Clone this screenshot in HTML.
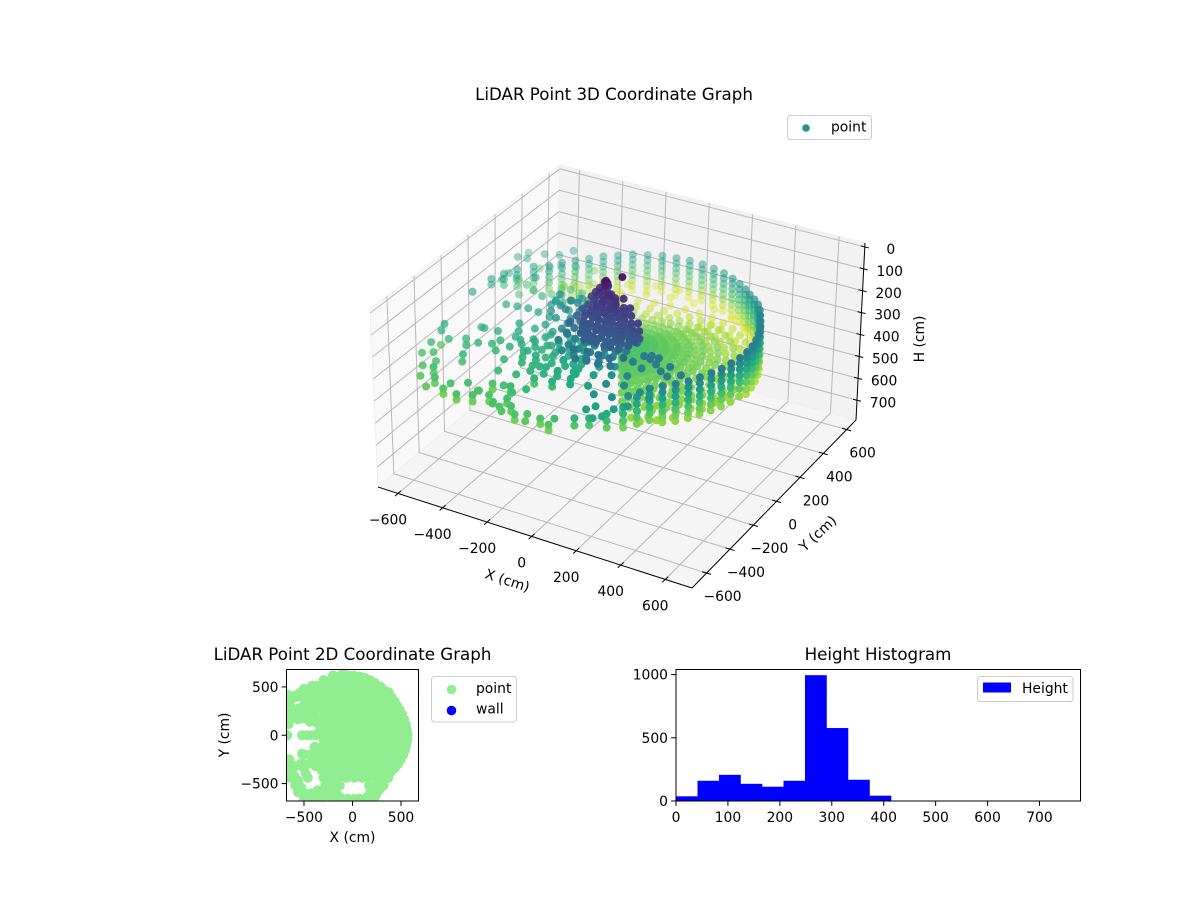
<!DOCTYPE html>
<html lang="en">
<head>
<meta charset="utf-8">
<title>LiDAR Point Graphs</title>
<style>
html,body{margin:0;padding:0;background:#fff;}
svg{display:block;font-family:"DejaVu Sans","Liberation Sans",sans-serif;fill:#000;}
</style>
</head>
<body>
<svg id="fig" xmlns="http://www.w3.org/2000/svg" width="1200" height="900" viewBox="0 0 1200 900">
  <rect x="0" y="0" width="1200" height="900" fill="#ffffff"/>
  <defs>
    <clipPath id="clip2d"><rect x="286.5" y="669.5" width="132" height="131.5"/></clipPath>
  </defs>
  <text x="614" y="100" font-size="16.67" text-anchor="middle">LiDAR Point 3D Coordinate Graph</text>
  <g id="plot3d"></g>
  <text transform="translate(506,585) rotate(18)" font-size="13.89" text-anchor="middle">X (cm)</text>
  <text transform="translate(821,537) rotate(-43)" font-size="13.89" text-anchor="middle">Y (cm)</text>
  <text transform="translate(924,339) rotate(-90)" font-size="13.89" text-anchor="middle">H (cm)</text>
  <g>
    <rect x="787.5" y="115.5" width="84" height="24" rx="3" fill="#ffffff" fill-opacity="0.8" stroke="#cccccc"/>
    <circle cx="806" cy="128" r="3.8" fill="#21918c"/>
    <text x="831" y="131.5" font-size="13.89">point</text>
  </g>

  <text x="352.5" y="660" font-size="16.67" text-anchor="middle">LiDAR Point 2D Coordinate Graph</text>
  <g id="plot2d"></g>
  <text x="352.5" y="842" font-size="13.89" text-anchor="middle">X (cm)</text>
  <text transform="translate(229,735) rotate(-90)" font-size="13.89" text-anchor="middle">Y (cm)</text>
  <g>
    <rect x="431.5" y="676.5" width="85" height="45.5" rx="3" fill="#ffffff" stroke="#cccccc"/>
    <circle cx="451.5" cy="689.5" r="4.8" fill="#90ee90"/>
    <text x="476" y="693" font-size="13.89">point</text>
    <circle cx="451.5" cy="710.5" r="4.8" fill="#0000ff"/>
    <text x="476" y="713.5" font-size="13.89">wall</text>
  </g>

  <text x="878" y="660" font-size="16.67" text-anchor="middle">Height Histogram</text>
  <g id="hist"></g>
  <g>
    <rect x="977.5" y="676.5" width="95.5" height="25" rx="3" fill="#ffffff" fill-opacity="0.8" stroke="#cccccc"/>
    <rect x="983" y="682.5" width="28" height="10" fill="#0000ff"/>
    <text x="1022" y="693" font-size="13.89">Height</text>
  </g>
</svg>
<script>
// ---------- tick labels ----------
const xTicks3d = [-600,-400,-200,0,200,400,600];
const yTicks3d = [-600,-400,-200,0,200,400,600];
const hTicks3d = [0,100,200,300,400,500,600,700];
const ticks2d = [-500,0,500];
const histXTicks = [0,100,200,300,400,500,600,700];
const histYTicks = [0,500,1000];

// ---------- histogram data ----------
const binEdges = [0,41.4,82.8,124.2,165.6,207,248.4,289.8,331.2,372.6,414];
const binCounts = [37,160,207,136,113,160,995,577,168,42];

// ---------- lidar wall columns: beam angle (deg), ground range (cm), heights (cm) ----------
const wallAngles = [-72,-66,-60,-54.5,-49,-43.5,-38,-32.5,-27,-21.5,-16,-10.5,-5,0.5,6,11.5,17,22.5,28,33.5,39,44.5,50,55.5,61,66.5,72,77.5,83,88.5,94,99.5,105,110.5,116,121.5,127,132.5,138,143.5,149,154,160,165,170];
const wallRanges = [640,620,590,560,545,545,550,555,555,558,560,562,565,565,562,558,555,552,550,550,555,560,562,565,575,585,595,603,610,615,617,620,620,618,615,610,605,600,595,592,590,620,640,653,667];
const wallHeights = [
[270,300],
[255,285,315],
[240,270,300,330],
[215,245,275,304,332],
[190,216,244,272,300,328],
[186,212,240,268,296,324,345],
[184,210,238,266,294,322,346],
[182,208,236,264,292,320,344],
[180,206,234,262,290,318,342],
[178,204,232,260,288,316,342],
[178,203,230,258,286,314,344],
[176,202,228,256,284,312,346],
[176,200,226,254,282,312,346],
[176,198,224,250,278,308,340,362],
[178,200,224,250,276,304,334,362],
[180,202,226,250,276,302,332,364],
[182,204,228,252,278,304,332,366],
[184,206,230,254,280,306,334,370],
[186,208,232,256,282,308,336,372],
[188,210,234,258,284,310,340,376],
[194,218,242,266,292,318,348,380],
[200,224,248,272,298,324,354,384],
[206,230,254,278,304,330,358,388],
[212,236,260,284,310,336,362,392],
[218,242,266,290,314,340,366,394],
[222,246,270,294,318,342,368,396],
[225,248,272,296,320,344,370,398],
[226,250,274,298,322,346,372,398],
[228,252,276,300,324,348,372,396],
[228,252,276,300,324,348,370,394],
[227,250,274,298,322,346,370,396],
[228,252,276,298,322,346,372,398],
[226,250,274,296,320,344,368,392],
[228,252,276,300,324,348,372,396],
[226,250,274,298,322,346,370,392],
[228,252,276,300,324,348,372,394],
[226,250,274,298,322,346,372,396],
[228,252,276,302,326,350,374],
[225,250,276,300,326,350],
[222,246,272,298,324,350],
[220,246,272,298,324],
[222,248,274,300,330],
[222,248,274,300],
[226,252,278],
[232,258]
];

// ---------- lidar floor rays: beam angle (deg), shared ground ranges (cm), heights (cm) ----------
const floorAngles = [-60,-52.5,-45,-37.5,-30,-22.5,-15,-7.5,0,7.5,15,22.5,30,37.5,45,52.5,60,67.5,75,82.5,90,97.5,105,112.5,120,127.5,135];
const floorRanges = [40,70,100,135,175,220,270,325,385,450,515];
const floorHeights = [
[292,295,298,300,306,312,318,324,330,338,346],
[290,294,297,302,306,310,316,322,332,340,348],
[292,296,298,303,308,312,318,324,330,342,350],
[291,294,298,302,306,311,316,323,331,340,352],
[292,295,299,302,307,312,317,322,332,342,350],
[290,296,298,303,306,310,318,324,330,340,352],
[293,295,297,302,308,312,316,322,333,341,350],
[291,294,299,304,306,311,317,325,330,342,354],
[292,296,298,302,307,313,318,323,332,340,352],
[290,295,300,303,308,312,316,324,334,344,354],
[293,294,298,304,306,311,318,326,332,342,356],
[292,296,299,302,309,314,320,325,335,346,358],
[291,295,298,305,308,312,319,327,336,348,360],
[293,297,300,304,310,315,320,328,338,350,362],
[292,296,301,306,310,316,322,330,340,352,366],
[294,298,302,306,312,318,324,332,344,356,370],
[294,297,303,308,313,319,326,336,348,360,374],
[295,299,304,309,315,322,330,340,352,366,380],
[296,300,305,311,317,324,332,342,356,370,384],
[296,301,306,312,318,326,336,346,360,374,388],
[297,302,307,313,320,328,338,350,362,376,390],
[298,303,308,314,322,330,340,352,364,378,388],
[298,304,309,316,323,332,342,352,366,376,386],
[299,304,310,316,324,332,342,354,364,374,384],
[300,305,310,317,324,334,344,354,362,372,380],
[300,306,312,318,326,334,344,352,360,368,376],
[301,306,312,320,328,336,344,350,358,364,370]
];

// ---------- interleaved floor rays in the dense forward fan ----------
const fanAngles = [-56,-48,-41,-34,-26,-19,-11,-4,4,11,19,26,34,41,49,56,64,71];
const fanRanges = [55,85,118,155,197,245,297,355,417,482];
const fanHeights = [
[300,304,306,310,314,320,326,332,340,348],
[302,304,308,311,316,320,324,334,342,350],
[300,303,306,312,315,322,328,334,344,352],
[301,305,308,310,316,321,326,336,342,350],
[303,304,307,312,314,320,328,335,344,354],
[300,306,308,311,317,322,327,333,343,352],
[302,305,309,313,315,320,326,336,345,356],
[301,304,307,310,316,323,329,334,344,352],
[303,306,308,312,318,322,328,336,346,356],
[300,304,309,314,316,324,330,338,348,358],
[302,306,310,312,318,325,332,340,350,360],
[301,305,308,314,320,326,332,342,352,364],
[303,307,310,315,320,327,334,344,356,368],
[302,306,311,316,322,328,336,346,358,370],
[304,308,312,317,323,330,338,350,362,374],
[305,309,314,319,325,333,342,352,366,378],
[306,310,315,320,328,336,346,358,370,384],
[307,311,316,322,330,338,348,360,374,386]
];

// ---------- obstacle and floor returns on the left and front of the room (cm) ----------
const scatterX = [
-500,-540,-590,-640,-665,-650,-640,-560,-480,-420,
-640,-560,-500,-520,-450,-440,-370,-330,-380,-380,
-300,-672,-520,-470,-420,-375,-300,-230,-340,-260,
-281,-260,-320,-240,-300,-220,-190,-200,-260,-170,
-330,-280,-240,-180,-100,-300,-220,-140,-60,-390,
-320,-240,-160,-80,0,-440,-360,-280,-200,-120,
-40,40,-420,-340,-260,-180,-100,-20,60,130,
-320,-240,-160,-80,0,80,160,230,-300,-220,
-140,-60,20,100,180,260,330,-280,-200,-130,
170,250,320,-250,-170,180,250,-130,150,10,
-640,-590,-530,-500,-520,-640,-600,-560,-530,-490,
-430,-360,-300,-650,-470,-620,-430,-360,-250,-170,
-530,-490,-130,150,10,-300,-280,-200,-140,-60,
-220,-160,-100,-40,-260,-200,-130,-70,-10,-180,
-120,-60,0,-250,-190,-130,-80,-310,-250,-370,
-91,-91,61,61,-40,-200,-150,373,290,198,
101,0,-101,-198,-290,-373,-444,-390,-450,-470,
-330,-380,-300,-440,-610,-560,-670,-600,-520,-640,
-590,-560,-500,-400,-380,-230,-170,-300,-210,-170,
200,280,230,300,370,-340,-270,-200,-130,-290,
-215,-155,-95,-30,-275,-215,-150,-95,-45,-190,
-135,-75,-15,-240,-175,-110,-60,-330,-270,-135,
-200,-300,-380,-450,-100,-500,-360,-420,-500,-480,
-460,-300,-50,70
];
const scatterY = [
480,440,410,360,330,240,170,400,470,510,
300,165,175,225,230,140,130,110,260,190,
190,0,0,0,0,0,120,120,40,40,
12,60,40,-20,-30,40,20,-50,-60,-30,
90,90,110,40,40,-40,-40,-40,-40,-120,
-120,-120,-120,-120,-120,-200,-200,-200,-200,-200,
-200,-200,-280,-280,-280,-280,-280,-280,-280,-280,
-360,-360,-360,-360,-360,-360,-360,-360,-440,-440,
-440,-440,-440,-440,-440,-440,-440,-520,-520,-520,
-520,-520,-520,-600,-600,-600,-600,-640,-640,-660,
-290,-320,-290,-200,-190,-370,-420,-470,-540,-600,
-640,-660,-640,-250,-300,-330,-640,-660,-600,-600,
-540,-600,-640,-640,-660,-640,-520,-520,-440,-440,
-240,-240,-240,-240,-320,-320,-320,-320,-320,-400,
-400,-400,-400,-160,-160,-160,-160,-240,-240,-160,
-682,-682,-686,-686,-690,-660,-680,444,502,545,
571,580,571,545,502,444,373,456,400,360,
380,320,300,290,230,225,420,390,420,-440,
-520,-590,-650,-250,-320,-520,-560,-590,-640,-660,
-560,-560,-640,-480,-440,280,210,130,90,-90,
-205,-215,-195,-225,-285,-295,-275,-290,-300,-365,
-355,-370,-350,-135,-185,-125,-190,-215,-205,-70,
620,570,510,450,640,410,-570,-600,-340,-400,
-440,-600,-655,-655
];
const scatterH = [
235,245,240,250,235,262,255,290,300,320,
318,300,270,240,300,262,255,250,275,265,
260,240,255,250,245,250,235,240,225,230,
200,195,205,190,210,185,195,205,215,175,
200,215,205,222,240,232,238,228,226,248,
252,244,250,246,240,258,262,250,256,248,
244,232,272,262,258,266,254,252,240,220,
275,268,262,258,250,232,210,195,282,276,
270,262,252,236,205,190,200,296,285,278,
215,205,225,300,292,240,250,295,268,300,
270,280,275,262,268,285,295,300,312,318,
305,300,296,262,272,310,330,325,330,315,
285,292,320,300,325,325,322,310,295,285,
262,258,255,252,268,264,258,254,250,268,
264,258,252,252,250,246,244,262,258,258,
300,325,300,325,312,295,305,392,394,396,
392,394,390,388,384,380,376,350,340,330,
330,320,310,300,270,285,260,300,280,300,
305,310,312,265,272,290,285,300,300,300,
240,230,245,205,215,290,270,225,230,240,
258,254,250,246,262,258,254,250,248,264,
260,256,250,250,246,250,246,260,256,240,
388,382,378,372,390,368,292,298,272,280,
288,296,300,286
];

// ---------- central obstacle near the sensor (cm) ----------
const blobX = [
-12,-65,-55,-72,-60,-48,-80,-60,-40,-20,-90,-70,-50,-30,-10,10,
-100,-80,-60,-40,-20,0,20,40,-95,-70,-45,-15,15,45,70,
-110,-85,-55,-25,5,35,65,95,125,-120,-90,-55,-20,15,50,85,120,155,
-135,-100,-60,-20,20,60,100,140,170,-150,-115,-70,-25,20,65,110,150,-160,-130,-80,-30,20,70,115,-170,-140,-90,-35,20,75,
230,265,250,300,290,340,360,260,210,380,430,
-20,8,42,-32,2,28,62,88,-42,-8,22,48,82,112,-52,-18,12,38,72,98,132,158,
-62,-28,2,32,58,92,118,152,182,-48,-22,12,38,68,88,122,148,178,202,
-38,-12,22,52,78,112,138,172,198,-28,2,28,62,88,118,152,182,4,32,58,92,122,158,
40,90,140,190,-20,60,110,10,160
];
const blobY = [
26,-10,-15,-8,-25,-22,-30,-40,-40,-45,-45,-60,-60,-65,-60,-65,
-60,-75,-85,-85,-90,-90,-90,-85,-95,-105,-110,-115,-115,-115,-105,
-110,-130,-135,-140,-140,-145,-140,-135,-135,-140,-165,-170,-175,-175,-175,-170,-165,-155,
-170,-195,-205,-210,-210,-210,-205,-195,-175,-150,-225,-240,-245,-245,-245,-240,-225,-120,-200,-275,-280,-280,-280,-270,-170,-250,-310,-315,-315,-310,
-225,-240,-200,-255,-215,-290,-250,-300,-280,-310,-290,
-60,-64,-58,-90,-88,-94,-90,-86,-120,-124,-118,-122,-116,-120,-150,-154,-148,-152,-146,-150,-154,-148,
-180,-176,-184,-180,-176,-182,-178,-184,-180,-210,-206,-212,-208,-214,-208,-212,-206,-210,-214,
-240,-244,-238,-242,-236,-240,-244,-238,-242,-270,-266,-272,-268,-274,-268,-272,-266,-300,-296,-302,-298,-304,-300,
-340,-340,-340,-320,-340,-380,-380,-380,-370
];
const blobH = [
5,18,24,28,30,32,44,48,50,52,58,60,62,64,66,68,
74,78,80,82,84,86,88,90,92,95,96,98,100,102,100,
108,112,114,116,118,120,122,124,126,128,132,134,136,138,140,142,140,138,
148,152,154,156,158,160,160,162,155,165,168,170,172,174,176,176,172,175,178,182,184,186,188,186,186,190,194,196,198,198,
172,168,178,175,170,178,172,182,176,180,170,
50,52,48,64,66,62,68,64,74,76,72,78,74,76,84,86,82,88,84,86,88,84,
94,96,92,98,94,96,98,94,96,104,106,102,108,104,106,104,106,102,108,
110,112,108,114,110,112,108,114,110,118,116,120,116,122,118,116,120,124,126,122,128,124,126,
150,150,152,145,155,165,165,170,165
];

// ---------- axis ranges ----------
const xRange3d = [-690,720];
const yRange3d = [-725,680];
const hRange3d = [-18,790];
const colorMaxH = 415;
const range2d = [-680,680];
const histXRange = [0,779];
const histYRange = [0,1040];

// ---------- colormap ----------
const viridisStops = ['#440154','#482475','#414487','#355f8d','#2a788e','#21918c','#22a884','#44bf70','#7ad151','#bddf26','#fde725'];

const NS = 'http://www.w3.org/2000/svg';
function make(tag, attrs, parent){
  const el = document.createElementNS(NS, tag);
  for (const k in attrs) el.setAttribute(k, attrs[k]);
  parent.appendChild(el);
  return el;
}
function fmt(v){ return String(v).replace('-', '\u2212'); }
function lerp(a,b,t){ return a+(b-a)*t; }
function viridis(t){
  t = Math.max(0, Math.min(1, t));
  const p = t*(viridisStops.length-1), i = Math.min(Math.floor(p), viridisStops.length-2), f = p-i;
  const a = parseInt(viridisStops[i].slice(1),16), b = parseInt(viridisStops[i+1].slice(1),16);
  const r = Math.round(lerp(a>>16,b>>16,f)), g = Math.round(lerp((a>>8)&255,(b>>8)&255,f)), bl = Math.round(lerp(a&255,b&255,f));
  return 'rgb('+r+','+g+','+bl+')';
}

// ---------- 3D box: floor corners and top corners in figure space ----------
const cornerFloor = {L:[378,487],F:[692,588],R:[856,420],B:[556,338]};
const cornerTop = {L:[370,309],F:[694,398],R:[865,243],B:[560,165]};
function tx(x){ return (x-xRange3d[0])/(xRange3d[1]-xRange3d[0]); }
function ty(y){ return (y-yRange3d[0])/(yRange3d[1]-yRange3d[0]); }
function tz(h){ return (h-hRange3d[0])/(hRange3d[1]-hRange3d[0]); }
function blend(c,a,b){
  const out = [0,0];
  for (let i=0;i<2;i++){
    const p = lerp(c.L[i],c.F[i],a), q = lerp(c.B[i],c.R[i],a);
    out[i] = lerp(p,q,b);
  }
  return out;
}
function project(x,y,h){
  const a = tx(x), b = ty(y), c = tz(h);
  const top = blend(cornerTop,a,b), flo = blend(cornerFloor,a,b);
  return [lerp(top[0],flo[0],c), lerp(top[1],flo[1],c)];
}
function depth(x,y,h){ return 0.433*tx(x)-0.75*ty(y)+0.375*(1-tz(h)); }

// ---------- assemble points from the arrays ----------
const points = [];
wallAngles.forEach(function(angle,i){
  const rad = angle*Math.PI/180;
  wallHeights[i].forEach(function(h){
    points.push({x:wallRanges[i]*Math.cos(rad), y:wallRanges[i]*Math.sin(rad), h:h});
  });
});
floorAngles.forEach(function(angle,i){
  const rad = angle*Math.PI/180;
  floorRanges.forEach(function(r,j){
    points.push({x:r*Math.cos(rad), y:r*Math.sin(rad), h:floorHeights[i][j]});
  });
});
fanAngles.forEach(function(angle,i){
  const rad = angle*Math.PI/180;
  fanRanges.forEach(function(r,j){
    points.push({x:r*Math.cos(rad), y:r*Math.sin(rad), h:fanHeights[i][j]});
  });
});
scatterX.forEach(function(x,i){ points.push({x:x, y:scatterY[i], h:scatterH[i]}); });
blobX.forEach(function(x,i){ points.push({x:x, y:blobY[i], h:blobH[i]}); });

// ---------- 3D plot ----------
const g3 = document.getElementById('plot3d');
function poly(list,fill,name){
  const el = make('polygon',{points:list.map(function(p){return p.join(',');}).join(' '),fill:fill,stroke:'#efefef','stroke-width':1},g3);
  
  
}
poly([cornerFloor.L,cornerFloor.B,cornerTop.B,cornerTop.L],'#f9f9f9','left-wall-pane');
poly([cornerFloor.B,cornerFloor.R,cornerTop.R,cornerTop.B],'#f2f2f2','back-wall-pane');
poly([cornerFloor.L,cornerFloor.F,cornerFloor.R,cornerFloor.B],'#f5f5f5','floor-pane');

const xLo = xRange3d[0], xHi = xRange3d[1], yLo = yRange3d[0], yHi = yRange3d[1], hLo = hRange3d[0], hHi = hRange3d[1];
function gridPath(pts,name){
  const el = make('polyline',{points:pts.map(function(p){return p.join(',');}).join(' '),fill:'none',stroke:'#b8b8b8','stroke-width':1},g3);
  
  
}
xTicks3d.forEach(function(v){
  gridPath([project(v,yLo,hHi),project(v,yHi,hHi),project(v,yHi,hLo)],'x-gridline');
});
yTicks3d.forEach(function(v){
  gridPath([project(xHi,v,hHi),project(xLo,v,hHi),project(xLo,v,hLo)],'y-gridline');
});
hTicks3d.forEach(function(v){
  gridPath([project(xLo,yLo,v),project(xLo,yHi,v),project(xHi,yHi,v)],'h-gridline');
});

function axisLine(a,b,name){
  const el = make('line',{x1:a[0],y1:a[1],x2:b[0],y2:b[1],stroke:'#000','stroke-width':1},g3);
  
  
}
axisLine(cornerFloor.L,cornerFloor.F,'x-axis-line');
axisLine(cornerFloor.F,cornerFloor.R,'y-axis-line');
axisLine(cornerFloor.R,cornerTop.R,'h-axis-line');

function label(g,x,y,str,anchor,name){
  const el = make('text',{x:x,y:y,'font-size':13.89,'text-anchor':anchor},g);
  el.textContent = str;
  
  
}
xTicks3d.forEach(function(v){
  const p = project(v,yLo,hHi);
  axisLine([p[0]-3,p[1]+2.7],[p[0]+3,p[1]-2.7],'x-tick');
  label(g3,p[0]-10,p[1]+31,fmt(v),'middle','x-tick-label');
});
yTicks3d.forEach(function(v){
  const p = project(xHi,v,hHi);
  axisLine([p[0]-4.5,p[1]-1.3],[p[0]+4.5,p[1]+1.3],'y-tick');
  label(g3,p[0]+16,p[1]+28,fmt(v),'middle','y-tick-label');
});
hTicks3d.forEach(function(v){
  const p = project(xHi,yHi,v);
  axisLine([p[0]-4,p[1]-1],[p[0]+4,p[1]+1],'h-tick');
  label(g3,p[0]+26,p[1]+7,fmt(v),'middle','h-tick-label');
});

const ordered = points.slice().sort(function(a,b){ return depth(a.x,a.y,a.h)-depth(b.x,b.y,b.h); });
const dMin = depth(ordered[0].x,ordered[0].y,ordered[0].h);
const dLast = ordered[ordered.length-1];
const dMax = depth(dLast.x,dLast.y,dLast.h);
const pointGroup = make('g',{},g3);


ordered.forEach(function(pt){
  const p = project(pt.x,pt.y,pt.h);
  const alpha = Math.min(1, 0.36+0.85*(depth(pt.x,pt.y,pt.h)-dMin)/(dMax-dMin));
  const el = make('circle',{cx:p[0].toFixed(1),cy:p[1].toFixed(1),r:4,fill:viridis(pt.h/colorMaxH),'fill-opacity':alpha.toFixed(2)},pointGroup);
  
  
});

// ---------- 2D plot ----------
const g2 = document.getElementById('plot2d');
const box2d = {l:286.5,r:418.5,t:669.5,b:801};
function sx2(v){ return box2d.l+(v-range2d[0])/(range2d[1]-range2d[0])*(box2d.r-box2d.l); }
function sy2(v){ return box2d.b-(v-range2d[0])/(range2d[1]-range2d[0])*(box2d.b-box2d.t); }
const back2d = make('rect',{x:box2d.l,y:box2d.t,width:box2d.r-box2d.l,height:box2d.b-box2d.t,fill:'#fff'},g2);


const dots2d = make('g',{'clip-path':'url(#clip2d)'},g2);


points.forEach(function(pt){
  const el = make('circle',{cx:sx2(pt.x).toFixed(1),cy:sy2(pt.y).toFixed(1),r:5,fill:'#90ee90'},dots2d);
  
  
});
const frame2d = make('rect',{x:box2d.l,y:box2d.t,width:box2d.r-box2d.l,height:box2d.b-box2d.t,fill:'none',stroke:'#000','stroke-width':1},g2);


ticks2d.forEach(function(v){
  const x = sx2(v), y = sy2(v);
  const t1 = make('line',{x1:x,y1:box2d.b,x2:x,y2:box2d.b+4.9,stroke:'#000','stroke-width':1},g2);
  
  
  const t2 = make('line',{x1:box2d.l-4.9,y1:y,x2:box2d.l,y2:y,stroke:'#000','stroke-width':1},g2);
  
  
  label(g2,x,822,fmt(v),'middle','x-tick-label-2d');
  label(g2,box2d.l-8,y+5,fmt(v),'end','y-tick-label-2d');
});

// ---------- histogram ----------
const gh = document.getElementById('hist');
const boxH = {l:676,r:1080.5,t:669.5,b:801};
function sxH(v){ return boxH.l+(v-histXRange[0])/(histXRange[1]-histXRange[0])*(boxH.r-boxH.l); }
function syH(v){ return boxH.b-(v-histYRange[0])/(histYRange[1]-histYRange[0])*(boxH.b-boxH.t); }
binCounts.forEach(function(c,i){
  const x0 = sxH(binEdges[i]), x1 = sxH(binEdges[i+1]), y = syH(c);
  const el = make('rect',{x:x0,y:y,width:x1-x0+0.3,height:boxH.b-y,fill:'#0000ff'},gh);
  
  
});
const frameH = make('rect',{x:boxH.l,y:boxH.t,width:boxH.r-boxH.l,height:boxH.b-boxH.t,fill:'none',stroke:'#000','stroke-width':1},gh);


histXTicks.forEach(function(v){
  const x = sxH(v);
  const t = make('line',{x1:x,y1:boxH.b,x2:x,y2:boxH.b+4.9,stroke:'#000','stroke-width':1},gh);
  
  
  label(gh,x,822,fmt(v),'middle','histogram-x-tick-label');
});
histYTicks.forEach(function(v){
  const y = syH(v);
  const t = make('line',{x1:boxH.l-4.9,y1:y,x2:boxH.l,y2:y,stroke:'#000','stroke-width':1},gh);
  
  
  label(gh,boxH.l-8,y+5,fmt(v),'end','histogram-y-tick-label');
});
</script>
</body>
</html>
